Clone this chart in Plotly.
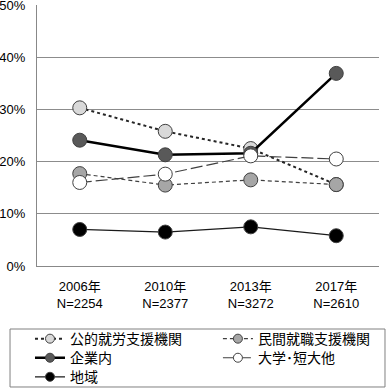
import plotly.graph_objects as go

years = ["2006年", "2010年", "2013年", "2017年"]
ns = ["N=2254", "N=2377", "N=3272", "N=2610"]
categories = [f"{y}<br>{n}" for y, n in zip(years, ns)]

series_names = ["公的就労支援機関", "民間就職支援機関", "企業内", "大学･短大他", "地域"]
public_support = [30.3, 25.8, 22.5, 15.6]
private_support = [17.7, 15.5, 16.5, 15.6]
in_company = [24.1, 21.3, 21.6, 36.9]
university = [16.0, 17.6, 21.1, 20.5]
regional = [7.0, 6.5, 7.5, 5.8]
y_ticks = [0, 10, 20, 30, 40, 50]
y_tick_text = ["0%", "10%", "20%", "30%", "40%", "50%"]

series_values = [public_support, private_support, in_company, university, regional]
styles = [
    dict(line=dict(color="#262626", width=2, dash="dot"), fill="#d9d9d9"),
    dict(line=dict(color="#404040", width=1.2, dash="4px,3px"), fill="#a6a6a6"),
    dict(line=dict(color="#000000", width=2.5, dash="solid"), fill="#595959"),
    dict(line=dict(color="#404040", width=1.2, dash="12px,4px"), fill="#ffffff"),
    dict(line=dict(color="#1a1a1a", width=1.3, dash="solid"), fill="#000000"),
]
# one legend per entry: (legend id, paper x, paper y of row centre)
legend_slots = [
    ("legend", -0.0205, -0.280),
    ("legend2", 0.529, -0.280),
    ("legend3", -0.0205, -0.353),
    ("legend4", 0.529, -0.353),
    ("legend5", -0.0205, -0.426),
]

font_family = "Noto Sans CJK JP, Noto Sans, sans-serif"
tick_family = "Liberation Sans, Noto Sans CJK JP, sans-serif"
fig = go.Figure()
for name, vals, st in zip(series_names, series_values, styles):
    fig.add_trace(go.Scatter(
        x=categories, y=vals, mode="lines+markers", name=name, showlegend=False,
        line=st["line"],
        marker=dict(size=14, color=st["fill"], line=dict(color="#404040", width=1)),
    ))
legend_layout = {}
for name, st, (lg, lx, ly) in zip(series_names, styles, legend_slots):
    fig.add_trace(go.Scatter(
        x=[None], y=[None], mode="lines+markers", name=name, showlegend=True,
        legend=lg, line=st["line"],
        marker=dict(size=9, color=st["fill"], line=dict(color="#404040", width=1)),
    ))
    legend_layout[lg] = dict(
        x=lx, y=ly, xanchor="left", yanchor="middle", orientation="v",
        bgcolor="rgba(0,0,0,0)", borderwidth=0,
        font=dict(size=14, family=font_family, color="#000000"),
    )

fig.update_layout(
    width=387, height=388,
    margin=dict(l=37, r=8, t=5, b=122, autoexpand=False),
    paper_bgcolor="white", plot_bgcolor="white",
    font=dict(family=font_family, size=13, color="#000000"),
    showlegend=True,
    xaxis=dict(
        range=[-0.5, 3.5],
        showgrid=False, showline=True, linecolor="#888888", linewidth=1,
        ticks="", tickfont=dict(size=13, family=tick_family), ticklabelstandoff=8,
    ),
    yaxis=dict(
        range=[0, 50], tickvals=y_ticks, ticktext=y_tick_text,
        showgrid=True, gridcolor="#8c8c8c", gridwidth=1,
        showline=True, linecolor="#888888", linewidth=1,
        zeroline=False, ticks="", tickfont=dict(size=13, family=tick_family),
        ticklabelstandoff=8, ticklabeloverflow="allow",
    ),
    shapes=[dict(
        type="rect", xref="paper", yref="paper",
        x0=-0.0789, x1=1.0175, y0=-0.4636, y1=-0.2414,
        line=dict(color="#808080", width=1), fillcolor="rgba(0,0,0,0)",
    )],
    **legend_layout,
)
fig.write_html(
    "out.html",
    config={"displayModeBar": False},
    post_script="document.body.style.margin='0';",
)
